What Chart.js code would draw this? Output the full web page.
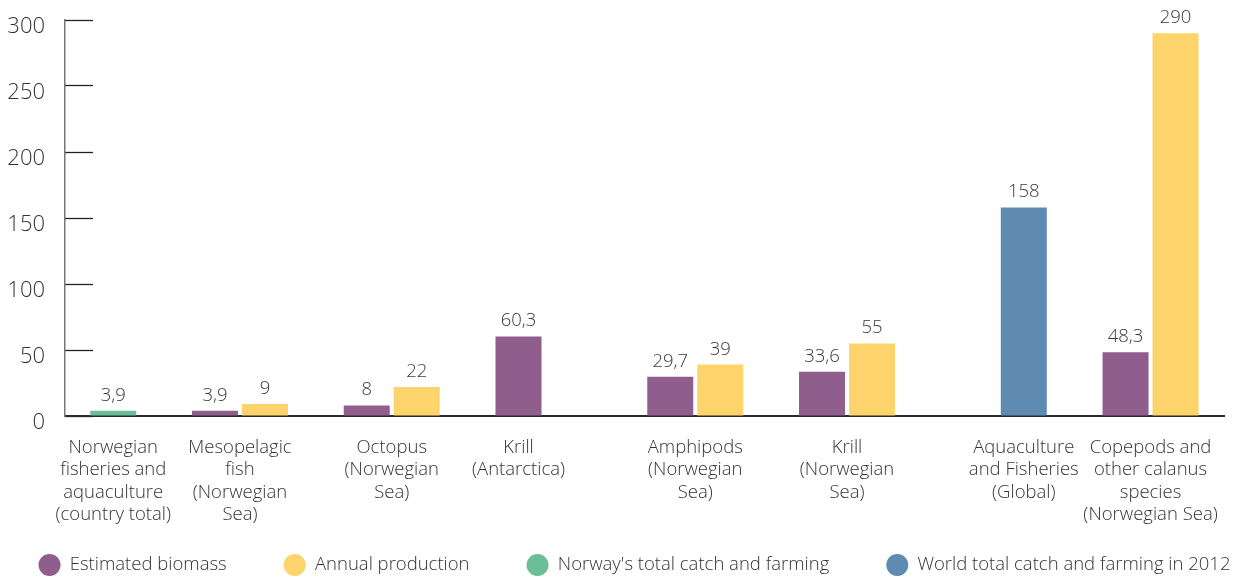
<!DOCTYPE html>
<html>
<head>
<meta charset="utf-8">
<script src="https://cdn.jsdelivr.net/npm/chart.js@4.4.1/dist/chart.umd.min.js"></script>
<style>
html,body{margin:0;padding:0;background:#fff;}
#wrap{width:1237px;height:578px;}
</style>
</head>
<body>
<div id="wrap"><canvas id="c" width="1237" height="578"></canvas></div>
<script>
// ---------- data ----------
const categories = [
  ['Norwegian', 'fisheries and', 'aquaculture', '(country total)'],
  ['Mesopelagic', 'fish', '(Norwegian', 'Sea)'],
  ['Octopus', '(Norwegian', 'Sea)'],
  ['Krill', '(Antarctica)'],
  ['Amphipods', '(Norwegian', 'Sea)'],
  ['Krill', '(Norwegian', 'Sea)'],
  ['Aquaculture', 'and Fisheries', '(Global)'],
  ['Copepods and', 'other calanus', 'species', '(Norwegian Sea)']
];
const estimatedBiomass = [null, 3.9, 8, 60.3, 29.7, 33.6, null, 48.3];
const annualProduction = [null, 9, 22, null, 39, 55, null, 290];
const norwayTotal      = [3.9, null, null, null, null, null, null, null];
const worldTotal       = [null, null, null, null, null, null, 158, null];
const seriesNames = ['Estimated biomass', 'Annual production', "Norway's total catch and farming", 'World total catch and farming in 2012'];
const yTickMin = 0, yTickMax = 300, yTickStep = 50;

// ---------- style ----------
const FONT = "'Open Sans', sans-serif";
const colors = ['#8f5e8c', '#fdd46c', '#6bbe97', '#5f8ab2'];
const CAT_PCT = 0.659, BAR_PCT = 0.92;
const X_MIN = -0.153, X_MAX = 7.484;

Chart.defaults.font.family = FONT;

const toXY = arr => arr.map((v, i) => ({x: i, y: v})).filter(p => p.y !== null);

// label positions: centred under the bars that are actually drawn in each category
const shift = CAT_PCT / 4;
const labelPos = categories.map((c, i) => {
  const hasA = estimatedBiomass[i] !== null;
  const hasB = annualProduction[i] !== null || norwayTotal[i] !== null || worldTotal[i] !== null;
  if (hasA && !hasB) return i - shift;
  if (!hasA && hasB) return i + shift;
  return i;
});

const barCommon = {categoryPercentage: CAT_PCT, barPercentage: BAR_PCT, borderWidth: 0, xAxisID: 'x', yAxisID: 'y'};

const valueLabels = {
  id: 'valueLabels',
  afterDatasetsDraw(chart) {
    const ctx = chart.ctx;
    ctx.save();
    ctx.font = "300 18.5px " + FONT;
    ctx.fillStyle = '#3a3a3a';
    ctx.textAlign = 'center';
    ctx.textBaseline = 'alphabetic';
    chart.data.datasets.forEach((ds, di) => {
      const meta = chart.getDatasetMeta(di);
      meta.data.forEach((el, j) => {
        const v = ds.data[j].y;
        ctx.fillText(String(v).replace('.', ','), el.x, el.y - 10);
      });
    });
    ctx.restore();
  }
};

new Chart(document.getElementById('c'), {
  type: 'bar',
  data: {
    datasets: [
      Object.assign({label: seriesNames[0], data: toXY(estimatedBiomass), backgroundColor: colors[0], stack: 'a'}, barCommon),
      Object.assign({label: seriesNames[1], data: toXY(annualProduction), backgroundColor: colors[1], stack: 'b'}, barCommon),
      Object.assign({label: seriesNames[2], data: toXY(norwayTotal), backgroundColor: colors[2], stack: 'b'}, barCommon),
      Object.assign({label: seriesNames[3], data: toXY(worldTotal), backgroundColor: colors[3], stack: 'b'}, barCommon)
    ]
  },
  options: {
    responsive: false,
    animation: false,
    events: [],
    layout: {padding: {top: 20, left: -32, right: -64, bottom: -6.25}},
    plugins: {
      tooltip: {enabled: false},
      legend: {
        position: 'bottom',
        labels: {
          usePointStyle: true,
          pointStyle: 'circle',
          pointStyleWidth: 22,
          boxHeight: 15.5,
          padding: 57,
          color: '#333',
          font: {family: FONT, size: 18.5, weight: 300}
        }
      }
    },
    scales: {
      x: {
        type: 'linear',
        offset: false,
        min: X_MIN, max: X_MAX,
        stacked: true,
        grid: {display: false, drawTicks: false, offset: false},
        border: {display: true, color: '#2a2a2a', width: 2},
        ticks: {display: false},
        afterBuildTicks: s => { s.ticks = categories.map((c, i) => ({value: i})); },
        afterFit: s => { s.height = 0; s.paddingLeft = 0; s.paddingRight = 13; }
      },
      xl: {
        type: 'linear',
        position: 'bottom',
        offset: false,
        weight: 1,
        min: X_MIN, max: X_MAX,
        grid: {display: false, drawTicks: false, offset: false},
        border: {display: false},
        ticks: {
          autoSkip: false, maxRotation: 0, minRotation: 0,
          padding: 20,
          color: '#333',
          font: {family: FONT, size: 18.5, weight: 300, lineHeight: 1.216},
          callback: (v, i) => categories[i]
        },
        afterBuildTicks: s => { s.ticks = labelPos.map(v => ({value: v})); },
        afterFit: s => {
          s.height = 82.75; s.paddingLeft = 0; s.paddingRight = 13;
          s._computeLabelArea = () => undefined; // let the 4-line labels run past the box
        }
      },
      y: {
        min: yTickMin, max: yTickMax,
        stacked: true,
        ticks: {stepSize: yTickStep, padding: 48, labelOffset: 7, color: '#333', font: {family: FONT, size: 22, weight: 300}},
        grid: {drawOnChartArea: false, drawTicks: true, tickLength: -28, tickColor: '#222', tickWidth: 1.3, color: '#222'},
        border: {display: true, color: '#777', width: 1.5},
        afterFit: s => { s.width = 97; s.paddingTop = 0; s.paddingBottom = 0; }
      }
    }
  },
  plugins: [valueLabels]
});
</script>
</body>
</html>
